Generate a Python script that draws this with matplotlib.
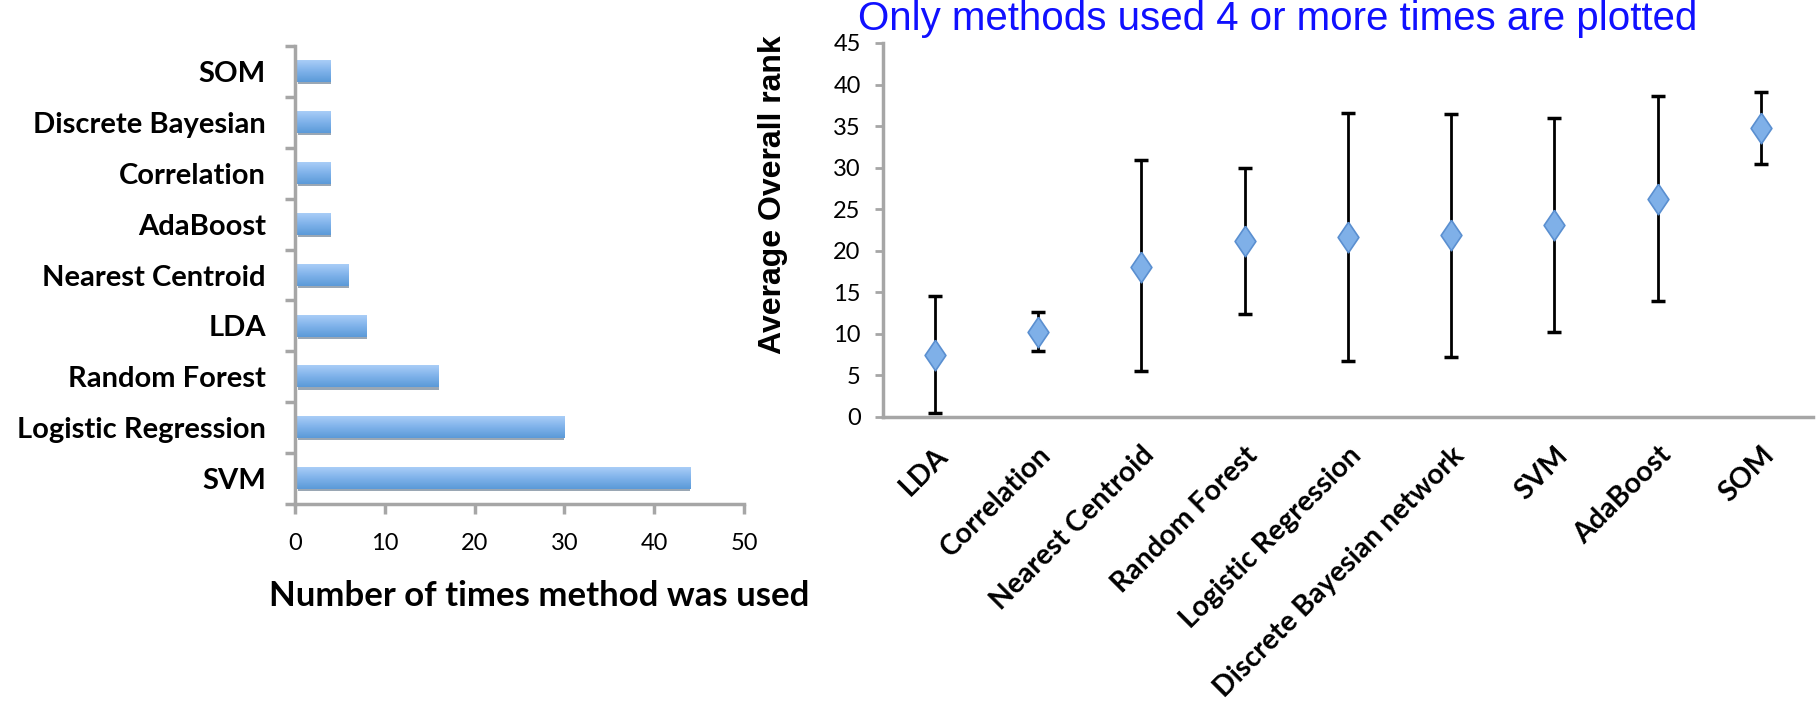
import numpy as np
import matplotlib
matplotlib.use("Agg")
import matplotlib.pyplot as plt
from matplotlib.colors import LinearSegmentedColormap

# left panel: how often each method was used
usage_methods = ["SVM", "Logistic Regression", "Random Forest", "LDA", "Nearest Centroid",
                 "AdaBoost", "Correlation", "Discrete Bayesian", "SOM"]
usage_counts = [44, 30, 16, 8, 6, 4, 4, 4, 4]

# right panel: average overall rank with low/high range
rank_methods = ["LDA", "Correlation", "Nearest Centroid", "Random Forest", "Logistic Regression",
                "Discrete Bayesian network", "SVM", "AdaBoost", "SOM"]
rank_mean = [7.4, 10.2, 18.1, 21.2, 21.7, 21.9, 23.1, 26.2, 34.8]
rank_low = [0.5, 7.9, 5.5, 12.4, 6.7, 7.2, 10.2, 13.9, 30.4]
rank_high = [14.5, 12.6, 30.9, 30.0, 36.6, 36.4, 36.0, 38.6, 39.1]

LBL = "Lato"
GREY = "#a6a6a6"

fig = plt.figure(figsize=(18.16, 7.07), dpi=100)

# ---- left: horizontal bars with gradient ----
ax1 = fig.add_axes([0.1624, 0.2871, 0.2473, 0.6478])
cmap = LinearSegmentedColormap.from_list("bar", ["#5b9ad8", "#7fb2ea", "#a9cdf7"])
grad = np.linspace(0, 1, 64).reshape(-1, 1)
h = 0.42
ypos = np.arange(len(usage_methods))
for y, v in zip(ypos, usage_counts):
    ax1.barh(y - 0.04, v - 0.3, height=h, left=0.3, color="#9aa7b4", zorder=1)
    ax1.imshow(grad, extent=[0, v, y - h / 2, y + h / 2], origin="lower", cmap=cmap,
               aspect="auto", zorder=2)
ax1.set_xlim(0, 50)
ax1.set_ylim(-0.5, len(usage_methods) - 0.5)
ax1.set_yticks(ypos)
ax1.set_yticklabels(usage_methods, fontfamily=LBL, fontweight="bold", fontsize=21)
ax1.set_yticks(np.arange(-0.5, len(usage_methods)), minor=True)
ax1.tick_params(axis="y", which="major", length=0, pad=21)
ax1.tick_params(axis="y", which="minor", length=7, width=2.5, color=GREY)
ax1.set_xticks(np.arange(0, 51, 10))
ax1.tick_params(axis="x", length=7, width=2.5, color=GREY, labelsize=17, pad=14)
for t in ax1.get_xticklabels():
    t.set_fontfamily(LBL)
ax1.set_xlabel("Number of times method was used", fontfamily=LBL, fontweight="bold",
               fontsize=25)
ax1.xaxis.set_label_coords(0.545, -0.165)
for s in ["top", "right"]:
    ax1.spines[s].set_visible(False)
for s in ["left", "bottom"]:
    ax1.spines[s].set_color(GREY)
    ax1.spines[s].set_linewidth(2.5)

# ---- right: mean rank with error bars ----
ax2 = fig.add_axes([0.4862, 0.4102, 0.512, 0.529])
x = np.arange(len(rank_methods))
mean = np.array(rank_mean)
yerr = [mean - np.array(rank_low), np.array(rank_high) - mean]
ax2.errorbar(x, mean, yerr=yerr, fmt="none", ecolor="black", elinewidth=2,
             capsize=5, capthick=2.5, zorder=2)
diamond = [(0, 1), (0.68, 0), (0, -1), (-0.68, 0), (0, 1)]
ax2.plot(x, mean, linestyle="none", marker=diamond, markersize=22, markerfacecolor="#7fb0e8",
         markeredgecolor="#5a8fd0", markeredgewidth=1.2, zorder=3)
ax2.set_xlim(-0.5, len(rank_methods) - 0.5)
ax2.set_ylim(0, 45)
ax2.set_yticks(np.arange(0, 46, 5))
ax2.tick_params(axis="y", length=6, width=2, color=GREY, labelsize=17, pad=10)
for t in ax2.get_yticklabels():
    t.set_fontfamily(LBL)
ax2.set_xticks(x)
ax2.set_xticklabels(rank_methods, rotation=45, ha="right", rotation_mode="anchor",
                    fontfamily=LBL, fontweight="bold", fontsize=20.5)
ax2.tick_params(axis="x", length=0, pad=18)
ax2.set_ylabel("Average Overall rank", fontfamily="Liberation Sans", fontweight="bold",
               fontsize=23)
ax2.yaxis.set_label_coords(-0.102, 0.594)
for s in ["top", "right"]:
    ax2.spines[s].set_visible(False)
for s in ["left", "bottom"]:
    ax2.spines[s].set_color(GREY)
    ax2.spines[s].set_linewidth(2.5)

fig.text(0.7035, 0.973, "Only methods used 4 or more times are plotted", color="#1010ff",
         fontfamily="Liberation Sans", fontsize=29, ha="center", va="center")

fig.savefig("out.png", dpi=100)
